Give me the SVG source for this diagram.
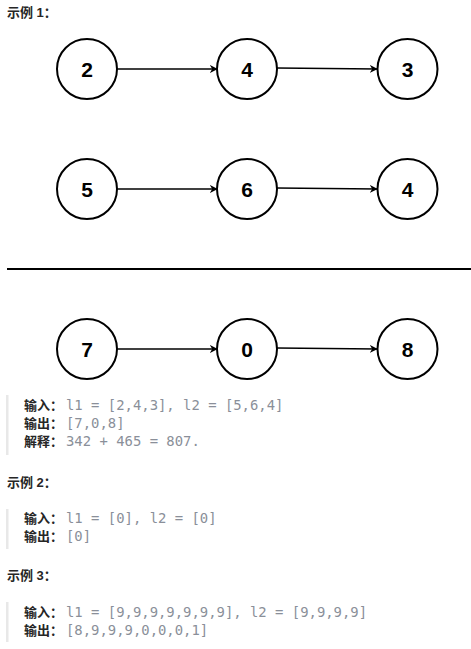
<svg xmlns="http://www.w3.org/2000/svg" width="471" height="649" viewBox="0 0 471 649">
<style>
.node circle{fill:#fff;stroke:#000;stroke-width:2}
.node text{font-family:"Liberation Sans",Arial,sans-serif;font-weight:bold;font-size:21px;text-anchor:middle;fill:#000}
.edge{stroke:#000;stroke-width:1.5;fill:none;marker-end:url(#arr)}
.h{font-family:"Liberation Sans","Noto Sans CJK SC",sans-serif;font-weight:bold;font-size:13px;fill:#262626}
.k{font-family:"Noto Sans CJK SC",sans-serif;font-weight:bold;font-size:13px;fill:#262626}
.c{font-family:"DejaVu Sans Mono",monospace;font-size:13.9px;fill:#8a8f99}
.bar{fill:#e8e8e8}
</style>
<defs>
<marker id="arr" viewBox="0 0 10 10" refX="9" refY="5" markerWidth="8" markerHeight="8" markerUnits="userSpaceOnUse" orient="auto">
<path d="M0,0 L10,5 L0,10 L3,5 Z" fill="#000"/>
</marker>
</defs>
<text class="h" x="7" y="17">示例 1：</text>
<g id="connectors">
<line class="edge" x1="117" y1="69" x2="217" y2="69"/>
<line class="edge" x1="277" y1="68" x2="377" y2="69"/>
<line class="edge" x1="117" y1="189" x2="217" y2="189"/>
<line class="edge" x1="277" y1="188" x2="377" y2="189"/>
<line class="edge" x1="117" y1="349" x2="217" y2="349"/>
<line class="edge" x1="277" y1="348" x2="377" y2="349"/>
</g>
<g id="n2" class="node"><circle cx="87" cy="69" r="30"/><text x="87" y="77">2</text></g>
<g id="n4" class="node"><circle cx="247" cy="69" r="30"/><text x="247" y="77">4</text></g>
<g id="n3" class="node"><circle cx="407.5" cy="69" r="30"/><text x="407.5" y="77">3</text></g>
<g id="n5" class="node"><circle cx="87" cy="189" r="30"/><text x="87" y="197">5</text></g>
<g id="n6" class="node"><circle cx="247" cy="189" r="30"/><text x="247" y="197">6</text></g>
<g id="n4b" class="node"><circle cx="407.5" cy="189" r="30"/><text x="407.5" y="197">4</text></g>
<line x1="7" y1="269" x2="471" y2="269" stroke="#000" stroke-width="2"/>
<g id="n7" class="node"><circle cx="87" cy="349" r="30"/><text x="87" y="357">7</text></g>
<g id="n0" class="node"><circle cx="247" cy="349" r="30"/><text x="247" y="357">0</text></g>
<g id="n8" class="node"><circle cx="407.5" cy="349" r="30"/><text x="407.5" y="357">8</text></g>

<rect class="bar" x="6" y="395" width="2.5" height="60"/>
<text class="k" x="24" y="410">输入：</text><text class="c" x="66" y="410">l1 = [2,4,3], l2 = [5,6,4]</text>
<text class="k" x="24" y="428">输出：</text><text class="c" x="66" y="428">[7,0,8]</text>
<text class="k" x="24" y="446">解释：</text><text class="c" x="66" y="446">342 + 465 = 807.</text>

<text class="h" x="7" y="487">示例 2：</text>
<rect class="bar" x="6" y="509" width="2.5" height="40"/>
<text class="k" x="24" y="523">输入：</text><text class="c" x="66" y="523">l1 = [0], l2 = [0]</text>
<text class="k" x="24" y="541">输出：</text><text class="c" x="66" y="541">[0]</text>

<text class="h" x="7" y="580">示例 3：</text>
<rect class="bar" x="6" y="602" width="2.5" height="40"/>
<text class="k" x="24" y="617">输入：</text><text class="c" x="66" y="617">l1 = [9,9,9,9,9,9,9], l2 = [9,9,9,9]</text>
<text class="k" x="24" y="635">输出：</text><text class="c" x="66" y="635">[8,9,9,9,0,0,0,1]</text>
</svg>
